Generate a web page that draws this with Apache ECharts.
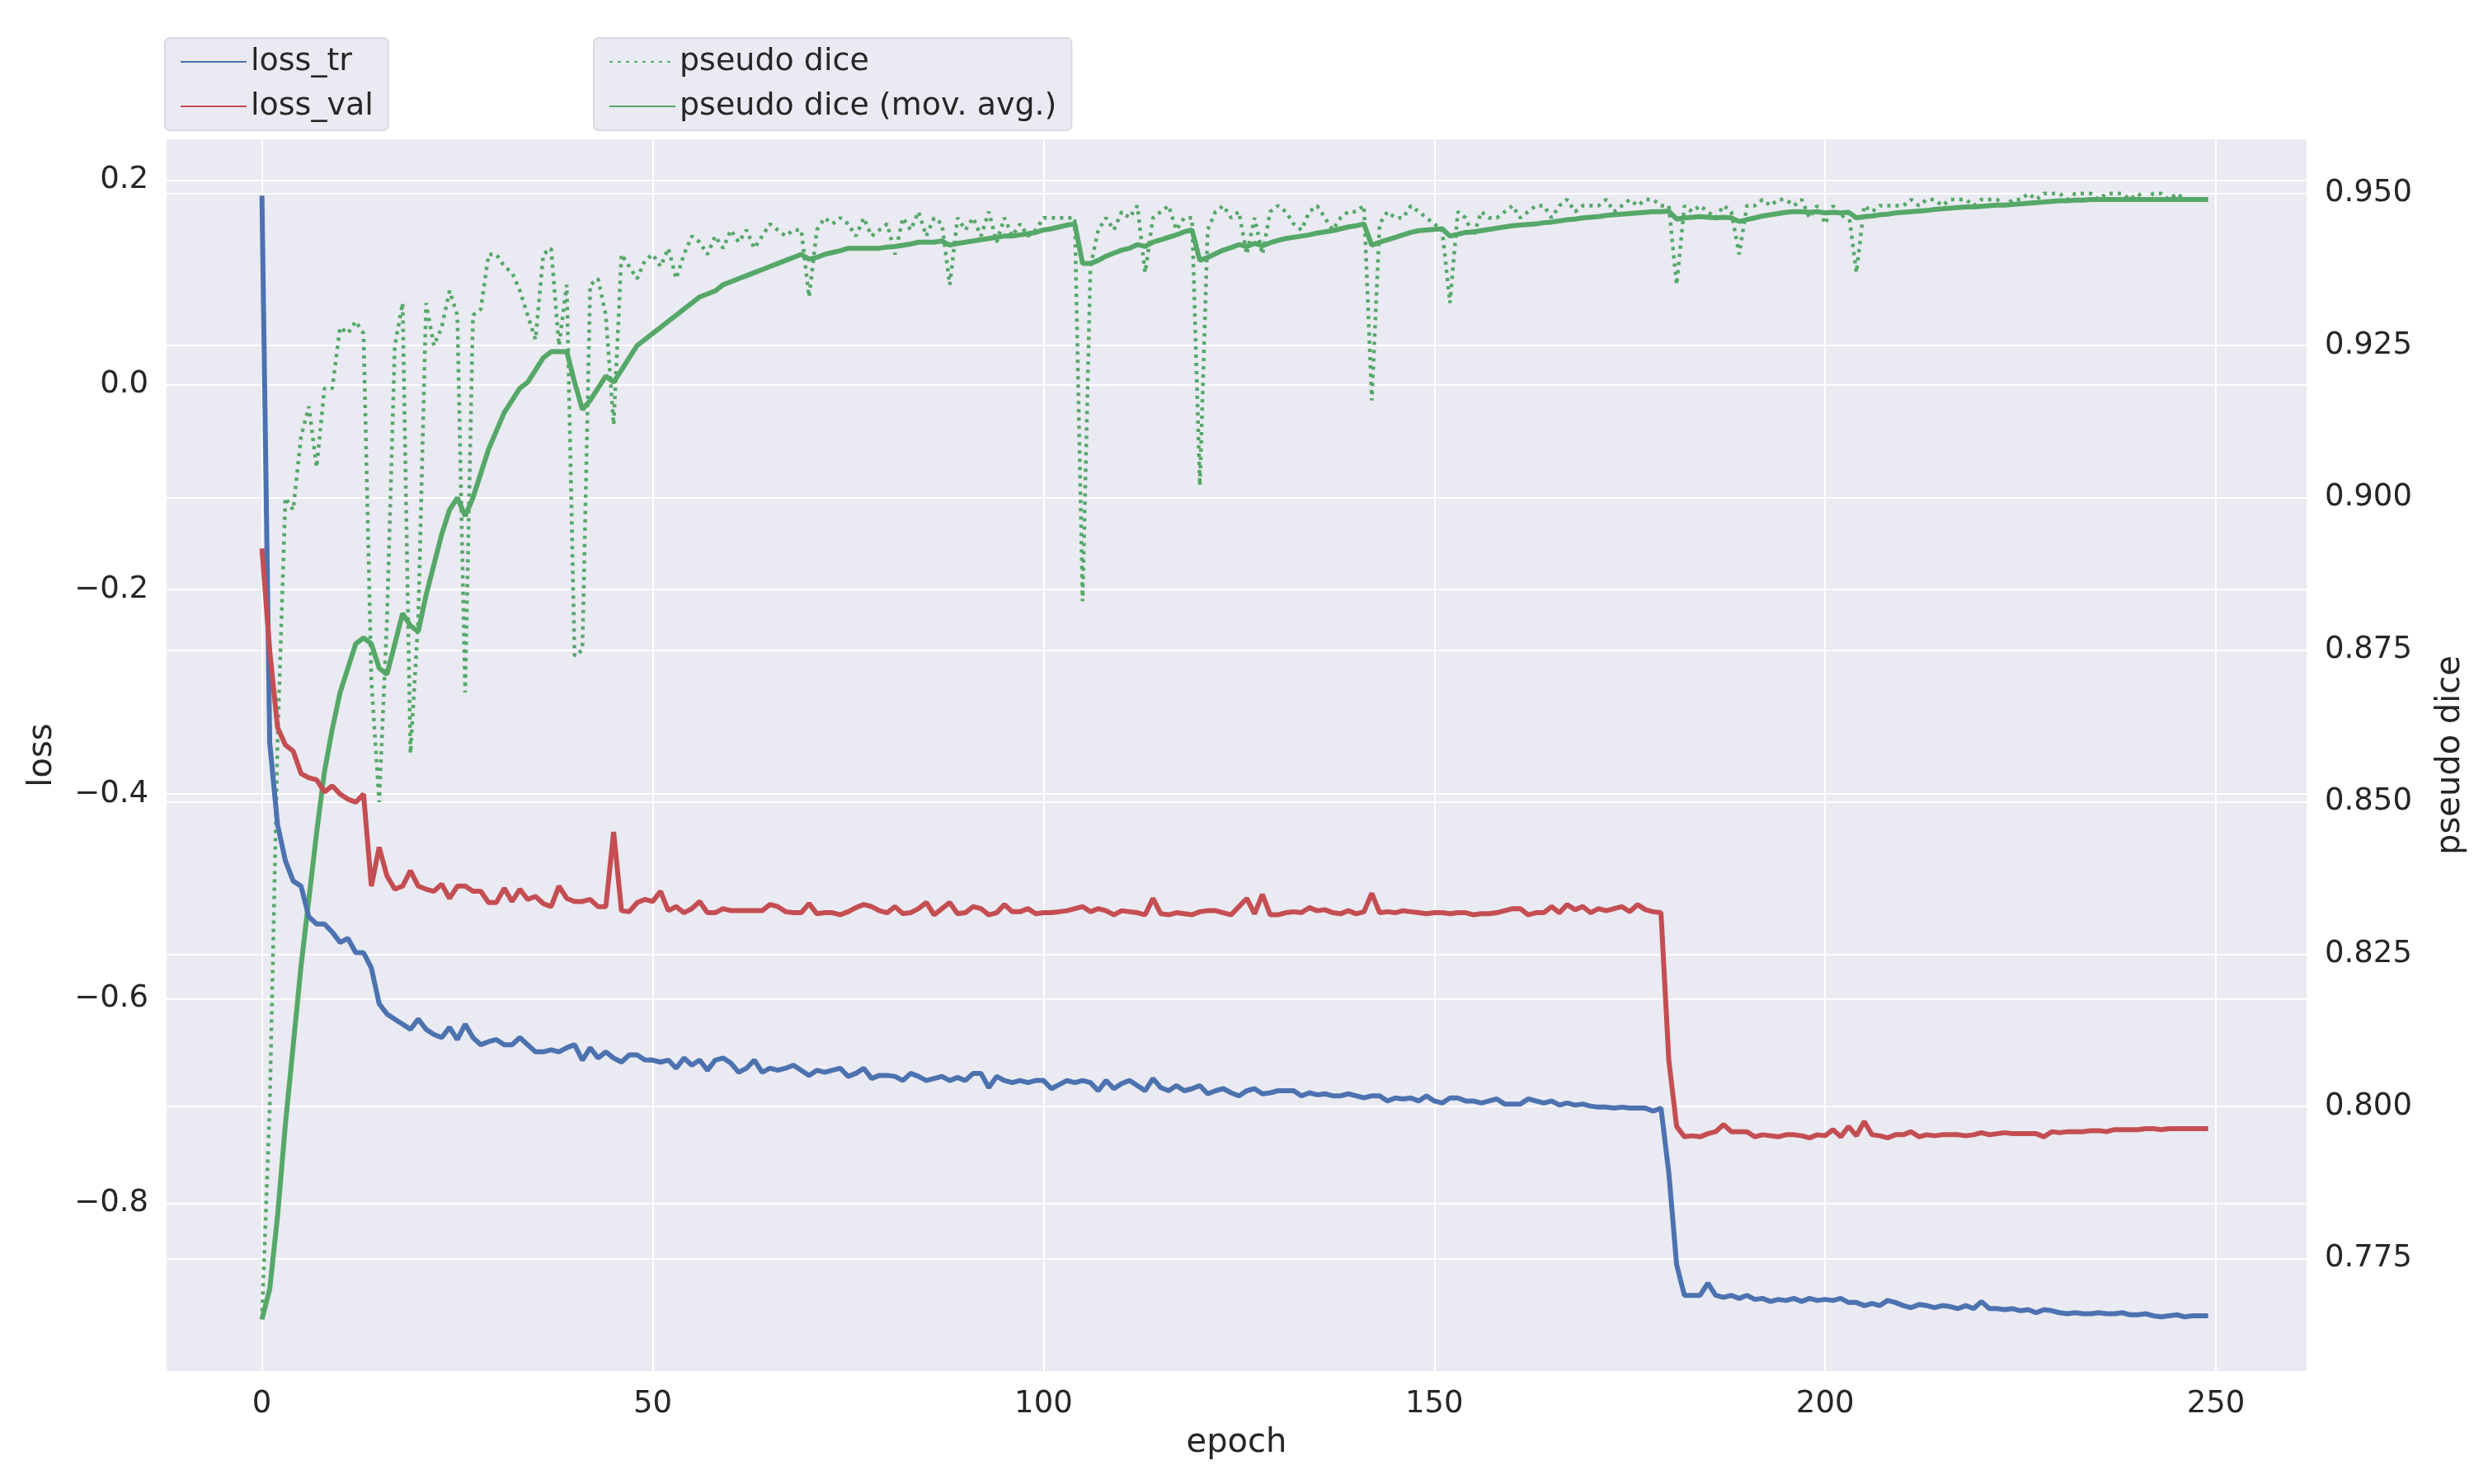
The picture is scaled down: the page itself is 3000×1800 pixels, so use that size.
<!DOCTYPE html>
<html>
<head>
<meta charset="utf-8">
<script src="https://cdn.jsdelivr.net/npm/echarts@6/dist/echarts.min.js"></script>
<style>
html, body { margin: 0; padding: 0; background: #fff; }
#main { width: 3000px; height: 1800px; }
</style>
</head>
<body>
<div id="main"></div>
<script>
// values, one per epoch
const lossTr = [
    0.185,-0.35,-0.43,-0.465,-0.485,-0.49,-0.52,-0.527,-0.527,-0.535,
    -0.545,-0.541,-0.555,-0.555,-0.57,-0.605,-0.615,-0.62,-0.625,-0.63,
    -0.62,-0.63,-0.635,-0.638,-0.628,-0.64,-0.625,-0.638,-0.645,-0.642,
    -0.64,-0.645,-0.645,-0.638,-0.645,-0.652,-0.652,-0.65,-0.652,-0.648,
    -0.645,-0.66,-0.648,-0.658,-0.652,-0.658,-0.662,-0.655,-0.655,-0.66,
    -0.66,-0.662,-0.66,-0.668,-0.658,-0.665,-0.66,-0.67,-0.66,-0.658,
    -0.663,-0.672,-0.668,-0.66,-0.672,-0.668,-0.67,-0.668,-0.665,-0.67,
    -0.675,-0.67,-0.672,-0.67,-0.668,-0.676,-0.673,-0.668,-0.678,-0.675,
    -0.675,-0.676,-0.68,-0.673,-0.676,-0.68,-0.678,-0.676,-0.68,-0.677,
    -0.68,-0.673,-0.673,-0.687,-0.676,-0.68,-0.682,-0.68,-0.682,-0.68,
    -0.68,-0.688,-0.684,-0.68,-0.682,-0.68,-0.682,-0.69,-0.68,-0.688,
    -0.683,-0.68,-0.685,-0.69,-0.678,-0.687,-0.69,-0.685,-0.69,-0.688,
    -0.685,-0.693,-0.69,-0.688,-0.692,-0.695,-0.69,-0.688,-0.693,-0.692,
    -0.69,-0.69,-0.69,-0.695,-0.692,-0.694,-0.693,-0.695,-0.695,-0.693,
    -0.695,-0.697,-0.695,-0.695,-0.7,-0.697,-0.698,-0.697,-0.7,-0.695,
    -0.7,-0.702,-0.697,-0.697,-0.7,-0.7,-0.702,-0.7,-0.698,-0.703,
    -0.703,-0.703,-0.698,-0.7,-0.702,-0.7,-0.704,-0.702,-0.704,-0.703,
    -0.705,-0.706,-0.706,-0.707,-0.706,-0.707,-0.707,-0.707,-0.71,-0.707,
    -0.77,-0.86,-0.89,-0.89,-0.89,-0.878,-0.89,-0.892,-0.89,-0.893,
    -0.89,-0.894,-0.893,-0.896,-0.894,-0.895,-0.893,-0.896,-0.893,-0.895,
    -0.894,-0.895,-0.893,-0.897,-0.897,-0.9,-0.898,-0.9,-0.895,-0.897,
    -0.9,-0.902,-0.899,-0.9,-0.902,-0.9,-0.901,-0.903,-0.9,-0.903,
    -0.896,-0.903,-0.903,-0.904,-0.903,-0.905,-0.904,-0.907,-0.904,-0.905,
    -0.907,-0.908,-0.907,-0.908,-0.908,-0.907,-0.908,-0.908,-0.907,-0.909,
    -0.909,-0.908,-0.91,-0.911,-0.91,-0.909,-0.911,-0.91,-0.91,-0.91
]

const lossVal = [
    -0.16,-0.26,-0.335,-0.352,-0.358,-0.38,-0.384,-0.386,-0.398,-0.392,
    -0.4,-0.405,-0.408,-0.4,-0.49,-0.452,-0.48,-0.493,-0.49,-0.475,
    -0.49,-0.493,-0.495,-0.488,-0.502,-0.49,-0.49,-0.495,-0.495,-0.506,
    -0.506,-0.492,-0.505,-0.493,-0.503,-0.5,-0.507,-0.51,-0.49,-0.502,
    -0.505,-0.505,-0.503,-0.51,-0.51,-0.437,-0.514,-0.515,-0.506,-0.503,
    -0.505,-0.495,-0.514,-0.51,-0.516,-0.512,-0.505,-0.516,-0.516,-0.512,
    -0.514,-0.514,-0.514,-0.514,-0.514,-0.508,-0.51,-0.515,-0.516,-0.516,
    -0.507,-0.517,-0.516,-0.516,-0.518,-0.515,-0.511,-0.508,-0.51,-0.514,
    -0.516,-0.51,-0.517,-0.516,-0.512,-0.506,-0.518,-0.512,-0.506,-0.517,
    -0.516,-0.51,-0.512,-0.518,-0.516,-0.508,-0.515,-0.515,-0.512,-0.517,
    -0.516,-0.516,-0.515,-0.514,-0.512,-0.51,-0.515,-0.512,-0.514,-0.518,
    -0.514,-0.515,-0.516,-0.518,-0.502,-0.517,-0.518,-0.516,-0.517,-0.518,
    -0.515,-0.514,-0.514,-0.516,-0.518,-0.51,-0.502,-0.517,-0.498,-0.518,
    -0.518,-0.516,-0.515,-0.516,-0.511,-0.514,-0.513,-0.516,-0.517,-0.514,
    -0.517,-0.515,-0.497,-0.516,-0.515,-0.516,-0.514,-0.515,-0.516,-0.517,
    -0.516,-0.516,-0.517,-0.516,-0.516,-0.518,-0.517,-0.517,-0.516,-0.514,
    -0.512,-0.512,-0.518,-0.516,-0.516,-0.51,-0.516,-0.508,-0.513,-0.51,
    -0.516,-0.512,-0.514,-0.512,-0.51,-0.515,-0.508,-0.513,-0.515,-0.516,
    -0.66,-0.725,-0.735,-0.734,-0.735,-0.732,-0.73,-0.723,-0.73,-0.73,
    -0.73,-0.735,-0.733,-0.734,-0.735,-0.733,-0.733,-0.734,-0.736,-0.733,
    -0.734,-0.728,-0.735,-0.725,-0.734,-0.72,-0.733,-0.734,-0.736,-0.733,
    -0.733,-0.73,-0.735,-0.733,-0.734,-0.733,-0.733,-0.733,-0.734,-0.733,
    -0.731,-0.733,-0.732,-0.731,-0.732,-0.732,-0.732,-0.732,-0.735,-0.73,
    -0.731,-0.73,-0.73,-0.73,-0.729,-0.729,-0.73,-0.728,-0.728,-0.728,
    -0.728,-0.727,-0.727,-0.728,-0.727,-0.727,-0.727,-0.727,-0.727,-0.727
]

const pseudoDice = [
    0.765,0.80,0.86,0.90,0.898,0.91,0.915,0.905,0.918,0.918,
    0.928,0.927,0.929,0.927,0.87,0.85,0.88,0.925,0.932,0.858,
    0.88,0.932,0.925,0.928,0.934,0.93,0.868,0.93,0.931,0.940,
    0.940,0.938,0.937,0.934,0.930,0.926,0.940,0.941,0.925,0.935,
    0.874,0.875,0.935,0.936,0.930,0.912,0.940,0.938,0.936,0.939,
    0.94,0.938,0.941,0.936,0.94,0.943,0.942,0.94,0.943,0.941,
    0.944,0.942,0.944,0.941,0.943,0.945,0.944,0.943,0.944,0.944,
    0.933,0.944,0.946,0.945,0.946,0.945,0.943,0.946,0.943,0.944,
    0.945,0.94,0.946,0.944,0.947,0.943,0.946,0.945,0.935,0.946,
    0.944,0.946,0.943,0.947,0.942,0.946,0.943,0.945,0.943,0.944,
    0.946,0.946,0.946,0.946,0.946,0.883,0.938,0.944,0.946,0.944,
    0.947,0.946,0.948,0.937,0.946,0.947,0.948,0.944,0.946,0.946,
    0.902,0.944,0.947,0.948,0.946,0.947,0.94,0.946,0.94,0.947,
    0.948,0.947,0.945,0.944,0.947,0.948,0.946,0.944,0.946,0.947,
    0.947,0.948,0.916,0.945,0.947,0.946,0.946,0.948,0.947,0.946,
    0.945,0.944,0.932,0.947,0.946,0.943,0.947,0.946,0.946,0.947,
    0.948,0.946,0.947,0.948,0.948,0.946,0.948,0.949,0.947,0.948,
    0.948,0.948,0.949,0.947,0.948,0.949,0.948,0.949,0.949,0.948,
    0.948,0.935,0.948,0.947,0.948,0.947,0.946,0.948,0.947,0.94,
    0.948,0.948,0.949,0.948,0.949,0.949,0.948,0.949,0.946,0.948,
    0.945,0.948,0.946,0.947,0.937,0.948,0.947,0.948,0.948,0.948,
    0.948,0.949,0.948,0.949,0.949,0.948,0.949,0.949,0.949,0.948,
    0.949,0.949,0.949,0.948,0.949,0.949,0.95,0.949,0.95,0.95,
    0.95,0.949,0.95,0.95,0.95,0.949,0.95,0.95,0.95,0.949,
    0.95,0.949,0.95,0.95,0.949,0.95,0.949,0.949,0.949,0.949
]

const diceMovAvg = [
    0.765,0.770,0.782,0.797,0.810,0.823,0.834,0.845,0.855,0.862,
    0.868,0.872,0.876,0.877,0.876,0.872,0.871,0.876,0.881,0.879,
    0.878,0.884,0.889,0.894,0.898,0.900,0.897,0.900,0.904,0.908,
    0.911,0.914,0.916,0.918,0.919,0.921,0.923,0.924,0.924,0.924,
    0.919,0.9145,0.916,0.918,0.920,0.919,0.921,0.923,0.925,0.926,
    0.927,0.928,0.929,0.930,0.931,0.932,0.933,0.9335,0.934,0.935,
    0.9355,0.936,0.9365,0.937,0.9375,0.938,0.9385,0.939,0.9395,0.940,
    0.9392,0.9395,0.940,0.9403,0.9406,0.941,0.941,0.941,0.941,0.941,
    0.9412,0.9413,0.9415,0.9417,0.942,0.942,0.942,0.9422,0.9415,0.9418,
    0.942,0.9422,0.9424,0.9426,0.9428,0.943,0.943,0.9432,0.9434,0.9436,
    0.944,0.9442,0.9445,0.9448,0.945,0.9385,0.9385,0.939,0.9397,0.9402,
    0.9407,0.941,0.9416,0.9413,0.942,0.9424,0.9428,0.9432,0.9437,0.944,
    0.939,0.9395,0.9401,0.9407,0.9411,0.9416,0.9413,0.9418,0.9414,0.9419,
    0.9423,0.9426,0.9428,0.943,0.9432,0.9435,0.9437,0.9439,0.9442,0.9445,
    0.9447,0.945,0.9415,0.942,0.9424,0.9428,0.9432,0.9436,0.9439,0.944,
    0.9441,0.9442,0.943,0.9433,0.9436,0.9437,0.9439,0.9441,0.9443,0.9445,
    0.9447,0.9448,0.9449,0.945,0.9452,0.9453,0.9455,0.9457,0.9458,0.946,
    0.9461,0.9462,0.9464,0.9465,0.9466,0.9467,0.9468,0.9469,0.947,0.947,
    0.9471,0.9458,0.946,0.9461,0.9462,0.9461,0.946,0.9461,0.946,0.9454,
    0.9457,0.946,0.9463,0.9465,0.9467,0.9469,0.947,0.947,0.9469,0.947,
    0.9468,0.9469,0.9468,0.9469,0.946,0.9462,0.9463,0.9465,0.9466,0.9468,
    0.9469,0.947,0.9471,0.9472,0.9474,0.9475,0.9476,0.9477,0.9478,0.9478,
    0.9479,0.948,0.9481,0.9481,0.9482,0.9483,0.9484,0.9485,0.9486,0.9487,
    0.9488,0.9488,0.9489,0.9489,0.949,0.949,0.949,0.949,0.949,0.949,
    0.949,0.949,0.949,0.949,0.949,0.949,0.949,0.949,0.949,0.949
]

const epochTicks = [0, 50, 100, 150, 200, 250]
const lossTicks = [-0.8, -0.6, -0.4, -0.2, 0.0, 0.2]
const diceTicks = [0.775, 0.8, 0.825, 0.85, 0.875, 0.9, 0.925, 0.95]

const FONT = 'DejaVu Sans'
const BLUE = '#4c72b0'
const RED = '#c44e52'
const GREEN = '#55a868'

const pairs = function(arr) {
    return arr.map((v, i) => [i, v])
}

const lossLabel = function(v) {
    const s = Math.abs(v).toFixed(1)
    return v < -1e-9 ? '\u2212' + s : s
}

const makeOption = function() {
    const tickLabel = { fontFamily: FONT, fontSize: 37, color: '#262626' }
    const titleText = { fontFamily: FONT, fontSize: 40, color: '#262626' }
    const legendBox = {
        orient: 'vertical',
        top: 46,
        backgroundColor: '#eaeaf2',
        borderColor: '#d8d8e0',
        borderWidth: 2,
        borderRadius: 6,
        padding: [10, 18, 10, 18],
        itemGap: 16,
        itemWidth: 80,
        itemHeight: 20,
        itemStyle: { opacity: 0 },
        textStyle: { fontFamily: FONT, fontSize: 38, color: '#262626' },
    }
    return {
        backgroundColor: '#ffffff',
        animation: false,
        grid: { left: 202, right: 202, top: 169, bottom: 137, backgroundColor: '#eaeaf2', show: true, borderWidth: 0 },
        legend: [
            Object.assign({ left: 200, data: ['loss_tr', 'loss_val'] }, legendBox),
            Object.assign({ left: 720, data: ['pseudo dice', 'pseudo dice (mov. avg.)'] }, legendBox),
        ],
        xAxis: {
            type: 'value',
            min: -12.2,
            max: 261.6,
            name: 'epoch',
            nameLocation: 'middle',
            nameGap: 68,
            nameTextStyle: titleText,
            axisLine: { show: false },
            axisTick: { show: false, customValues: epochTicks },
            axisLabel: Object.assign({ customValues: epochTicks, margin: 22 }, tickLabel),
            splitLine: { show: true, lineStyle: { color: '#ffffff', width: 2 } },
        },
        yAxis: [
            {
                type: 'value',
                min: -0.964,
                max: 0.240,
                name: 'loss',
                nameLocation: 'middle',
                nameGap: 130,
                nameTextStyle: titleText,
                axisLine: { show: false },
                axisTick: { show: false, customValues: lossTicks },
                axisLabel: Object.assign({ customValues: lossTicks, margin: 22, formatter: lossLabel }, tickLabel),
                splitLine: { show: true, lineStyle: { color: '#ffffff', width: 2 } },
            },
            {
                type: 'value',
                position: 'right',
                min: 0.7565,
                max: 0.9589,
                name: 'pseudo dice',
                nameLocation: 'middle',
                nameGap: 155,
                nameRotate: 90,
                nameTextStyle: titleText,
                axisLine: { show: false },
                axisTick: { show: false, customValues: diceTicks },
                axisLabel: Object.assign({ customValues: diceTicks, margin: 22, formatter: v => v.toFixed(3) }, tickLabel),
                splitLine: { show: true, lineStyle: { color: '#ffffff', width: 2 } },
            },
        ],
        series: [
            {
                name: 'loss_tr', type: 'line', yAxisIndex: 0, showSymbol: false, symbol: 'none',
                data: pairs(lossTr), color: BLUE, lineStyle: { width: 6 }, z: 3,
            },
            {
                name: 'loss_val', type: 'line', yAxisIndex: 0, showSymbol: false, symbol: 'none',
                data: pairs(lossVal), color: RED, lineStyle: { width: 6 }, z: 3,
            },
            {
                name: 'pseudo dice', type: 'line', yAxisIndex: 1, showSymbol: false, symbol: 'none',
                data: pairs(pseudoDice), color: GREEN, lineStyle: { width: 4.5, type: [4, 6] }, z: 2,
            },
            {
                name: 'pseudo dice (mov. avg.)', type: 'line', yAxisIndex: 1, showSymbol: false, symbol: 'none',
                data: pairs(diceMovAvg), color: GREEN, lineStyle: { width: 6 }, z: 2,
            },
        ],
    }
}

const __main = function() {
    const chart = echarts.init(document.getElementById('main'))
    chart.setOption(makeOption())
}

__main()
</script>
</body>
</html>
